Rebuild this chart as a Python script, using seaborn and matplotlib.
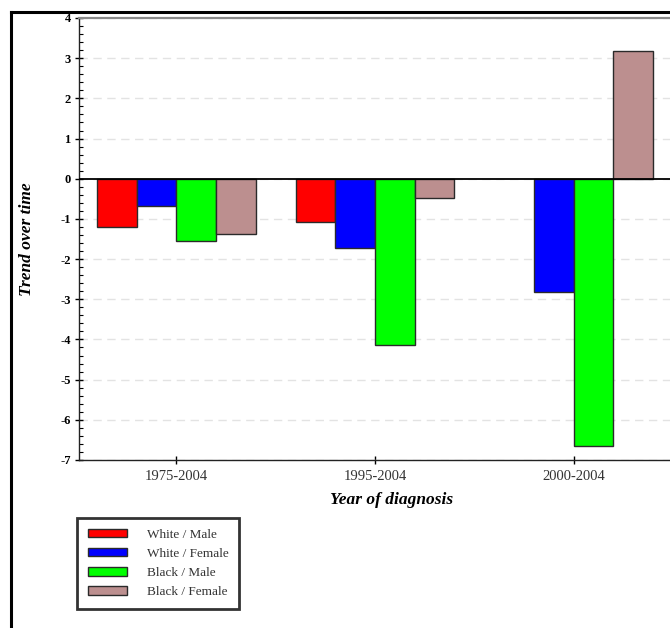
"""Grouped bar chart: trend over time by race / sex and year of diagnosis."""
import matplotlib
matplotlib.use("Agg")
import matplotlib.pyplot as plt
from matplotlib.lines import Line2D
from matplotlib.ticker import MultipleLocator
import numpy as np
import pandas as pd
import seaborn as sns

periods = ["1975-2004", "1995-2004", "2000-2004"]
groups = ["White / Male", "White / Female", "Black / Male", "Black / Female"]
white_male = [-1.21, -1.07, np.nan]
white_female = [-0.67, -1.73, -2.82]
black_male = [-1.54, -4.15, -6.65]
black_female = [-1.38, -0.47, 3.17]
colors = ["#ff0000", "#0000ff", "#00ff00", "#bc8f8f"]

rows = []
for g, vals in zip(groups, [white_male, white_female, black_male, black_female]):
    for p, v in zip(periods, vals):
        rows.append({"period": p, "group": g, "trend": v})
df = pd.DataFrame(rows).dropna()

plt.rcParams["axes.unicode_minus"] = False

W, H = 670, 628
fig = plt.figure(figsize=(W / 100, H / 100), dpi=100)
ax = fig.add_axes([79 / W, 1 - 460 / H, (671 - 79) / W, (460 - 18) / H])

sns.barplot(data=df, x="period", y="trend", hue="group", order=periods,
            hue_order=groups, palette=colors, width=0.8, saturation=1,
            edgecolor="#2a2a2a", linewidth=1.0, errorbar=None, ax=ax, zorder=3)

serif = "Liberation Serif"
ax.set_xlim(-0.49, 2.49)
ax.set_ylim(-7, 4)
ax.yaxis.set_major_locator(MultipleLocator(1))
ax.yaxis.set_minor_locator(MultipleLocator(0.2))
ax.grid(axis="y", color="#e3e3e3", ls=(0, (6, 4)), lw=1.0, zorder=0)
ax.set_axisbelow(True)
ax.axhline(0, color="black", lw=1.3, zorder=4)

for s in ["left", "bottom"]:
    ax.spines[s].set_color("#222222")
    ax.spines[s].set_linewidth(1.0)
ax.spines["top"].set_color("#888888")
ax.spines["top"].set_linewidth(1.6)
ax.spines["right"].set_visible(False)

ax.tick_params(axis="y", which="major", direction="inout", length=6, width=1,
               labelsize=9, pad=3)
ax.tick_params(axis="y", which="minor", direction="in", length=3, width=0.8)
ax.tick_params(axis="x", direction="inout", length=6, width=1, labelsize=10.5,
               labelcolor="#333333", pad=4)
for lbl in ax.get_yticklabels():
    lbl.set_fontfamily(serif)
    lbl.set_fontweight("bold")
for lbl in ax.get_xticklabels():
    lbl.set_fontfamily(serif)

ax.set_xlabel("Year of diagnosis", fontfamily=serif, fontsize=12.5,
              fontweight="bold", fontstyle="italic")
ax.xaxis.set_label_coords((392 - 79) / (671 - 79), -(492 - 460) / (460 - 18))
ax.set_ylabel("Trend over time", fontfamily=serif, fontsize=12.5,
              fontweight="bold", fontstyle="italic")
ax.yaxis.set_label_coords(-(79 - 35) / (671 - 79), 0.5)

handles, labels = ax.get_legend_handles_labels()
ax.get_legend().remove()
leg = fig.legend(handles, labels, loc="upper left",
                 bbox_to_anchor=(77 / W, 1 - 518 / H), borderaxespad=0,
                 prop={"family": serif, "size": 9.5}, frameon=True,
                 fancybox=False, edgecolor="black", handlelength=3.0,
                 handleheight=0.6, handletextpad=1.5, labelspacing=0.55,
                 borderpad=0.8)
leg.get_frame().set_linewidth(2.0)
for t in leg.get_texts():
    t.set_color("#333333")

# outer frame of the original page (cropped on the right and bottom)
fig.add_artist(Line2D([11 / W, 11 / W], [0, 1 - 12 / H], color="black", lw=2.2,
                      transform=fig.transFigure))
fig.add_artist(Line2D([11 / W, 1], [1 - 12 / H, 1 - 12 / H], color="black",
                      lw=2.2, transform=fig.transFigure))

fig.savefig("out.png", dpi=100)
